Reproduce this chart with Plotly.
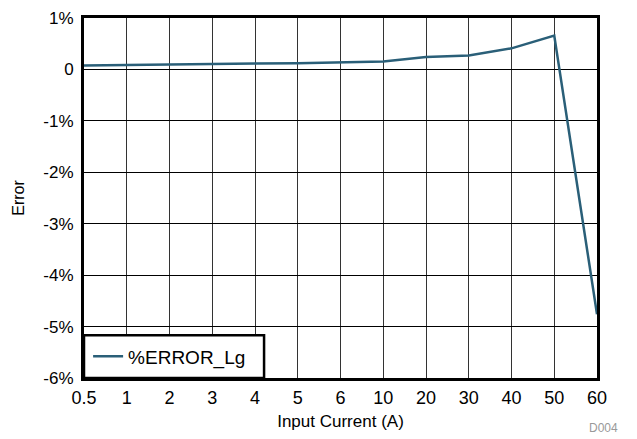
import plotly.graph_objects as go

categories = ["0.5", "1", "2", "3", "4", "5", "6", "10", "20", "30", "40", "50", "60"]
error_pct = [0.076, 0.088, 0.10, 0.107, 0.115, 0.12, 0.134, 0.153, 0.24, 0.27, 0.41, 0.66, -4.76]
series_name = "%ERROR_Lg"
y_tick_vals = [1, 0, -1, -2, -3, -4, -5, -6]
y_tick_text = ["1%", "0", "-1%", "-2%", "-3%", "-4%", "-5%", "-6%"]

positions = list(range(len(categories)))
font_family = "Liberation Sans, Arial, sans-serif"
line_color = "#2A5F78"

# The page body has an 8px default margin, so the figure is sized to fit the window.
fig = go.Figure()
fig.add_trace(go.Scatter(
    x=positions, y=error_pct, mode="lines", name=series_name,
    line=dict(color=line_color, width=2.5), showlegend=True,
))

fig.update_layout(
    width=629, height=431,
    margin=dict(l=76, r=40, t=10, b=61, autoexpand=False),
    paper_bgcolor="white", plot_bgcolor="white",
    font=dict(family=font_family, size=18, color="black"),
    xaxis=dict(
        range=[0, len(categories) - 1], automargin=False,
        tickvals=positions, ticktext=categories,
        showgrid=True, gridcolor="#333333", gridwidth=1,
        showline=True, linecolor="black", linewidth=3, mirror=True,
        ticks="", zeroline=False, ticklabelstandoff=1,
        ticklabeloverflow="allow",
        title=dict(text="Input Current (A)", font=dict(size=17), standoff=9),
    ),
    yaxis=dict(
        range=[-6, 1], automargin=False,
        tickvals=y_tick_vals, ticktext=y_tick_text,
        tickfont=dict(size=17),
        showgrid=True, gridcolor="black", gridwidth=1,
        showline=True, linecolor="black", linewidth=3, mirror=True,
        ticks="", zeroline=False, ticklabelstandoff=4,
        ticklabeloverflow="allow",
        title=dict(text="Error", font=dict(size=16), standoff=15),
    ),
    legend=dict(
        x=0.008, y=0.06, xanchor="left", yanchor="middle",
        bgcolor="rgba(0,0,0,0)", borderwidth=0,
        font=dict(size=19),
    ),
    shapes=[dict(
        type="rect", xref="paper", yref="paper",
        x0=0, x1=0.351, y0=0, y1=0.119,
        line=dict(color="black", width=2.5), fillcolor="white", layer="above",
    )],
    annotations=[dict(
        text="D004", xref="paper", yref="paper", x=1.045, y=-0.14,
        xanchor="right", yanchor="middle", showarrow=False,
        font=dict(size=12, color="#999999"),
    )],
)

fig.write_html("out.html")
